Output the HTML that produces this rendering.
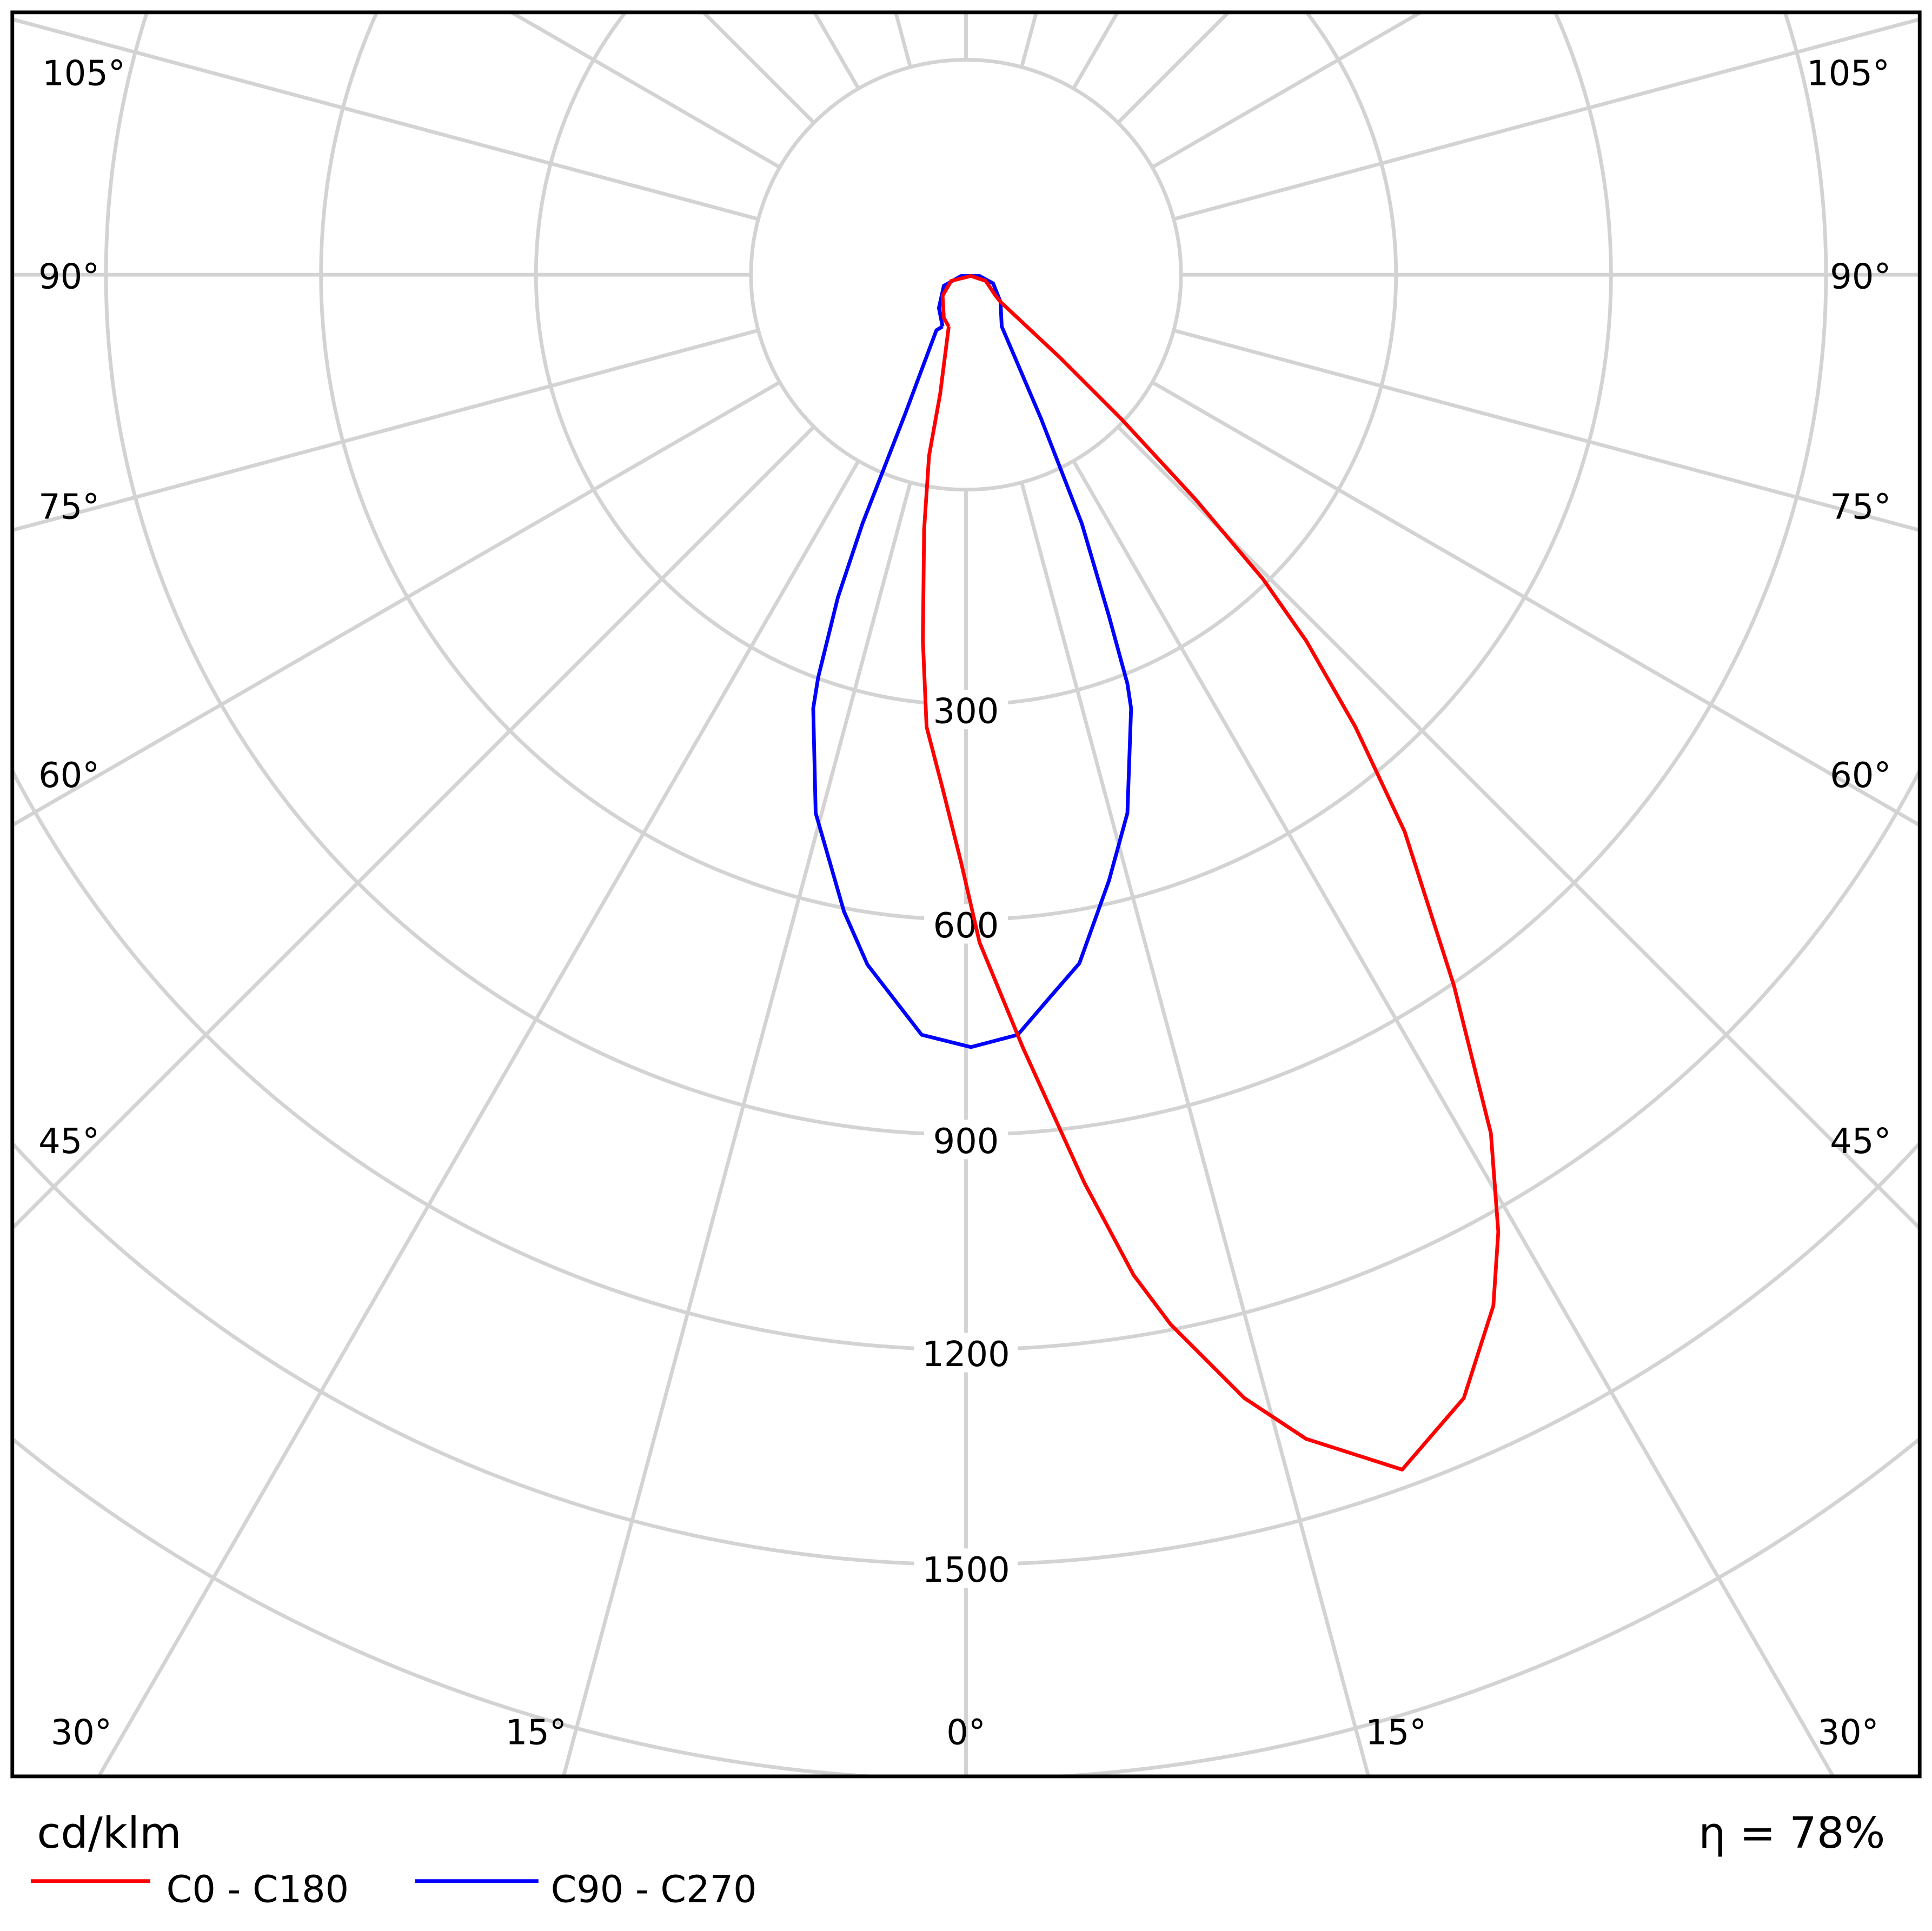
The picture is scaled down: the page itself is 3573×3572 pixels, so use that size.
<!DOCTYPE html>
<html><head><meta charset="utf-8"><style>
html,body{margin:0;padding:0;background:#fff;overflow:hidden;width:3573px;height:3572px}
svg{display:block}
text{font-family:"DejaVu Sans","Liberation Sans",sans-serif;fill:#000}
</style></head><body>
<svg width="3573" height="3572" viewBox="0 0 1568 1567.5" xmlns="http://www.w3.org/2000/svg">
<defs><clipPath id="c"><rect x="10" y="10" width="1548" height="1432"/></clipPath></defs>
<rect width="1568" height="1568" fill="#fff"/>
<g clip-path="url(#c)" stroke="#d3d3d3" stroke-width="3" fill="none">
<circle cx="784" cy="223" r="174.5"/>
<circle cx="784" cy="223" r="349"/>
<circle cx="784" cy="223" r="523.5"/>
<circle cx="784" cy="223" r="698"/>
<circle cx="784" cy="223" r="872.5"/>
<circle cx="784" cy="223" r="1047"/>
<circle cx="784" cy="223" r="1221.5"/>
<line x1="784" y1="397.5" x2="784" y2="2500"/>
<line x1="784" y1="397.5" x2="784" y2="2500" transform="rotate(15 784 223)"/>
<line x1="784" y1="397.5" x2="784" y2="2500" transform="rotate(30 784 223)"/>
<line x1="784" y1="397.5" x2="784" y2="2500" transform="rotate(45 784 223)"/>
<line x1="784" y1="397.5" x2="784" y2="2500" transform="rotate(60 784 223)"/>
<line x1="784" y1="397.5" x2="784" y2="2500" transform="rotate(75 784 223)"/>
<line x1="784" y1="397.5" x2="784" y2="2500" transform="rotate(90 784 223)"/>
<line x1="784" y1="397.5" x2="784" y2="2500" transform="rotate(105 784 223)"/>
<line x1="784" y1="397.5" x2="784" y2="2500" transform="rotate(120 784 223)"/>
<line x1="784" y1="397.5" x2="784" y2="2500" transform="rotate(135 784 223)"/>
<line x1="784" y1="397.5" x2="784" y2="2500" transform="rotate(150 784 223)"/>
<line x1="784" y1="397.5" x2="784" y2="2500" transform="rotate(165 784 223)"/>
<line x1="784" y1="397.5" x2="784" y2="2500" transform="rotate(180 784 223)"/>
<line x1="784" y1="397.5" x2="784" y2="2500" transform="rotate(195 784 223)"/>
<line x1="784" y1="397.5" x2="784" y2="2500" transform="rotate(210 784 223)"/>
<line x1="784" y1="397.5" x2="784" y2="2500" transform="rotate(225 784 223)"/>
<line x1="784" y1="397.5" x2="784" y2="2500" transform="rotate(240 784 223)"/>
<line x1="784" y1="397.5" x2="784" y2="2500" transform="rotate(255 784 223)"/>
<line x1="784" y1="397.5" x2="784" y2="2500" transform="rotate(270 784 223)"/>
<line x1="784" y1="397.5" x2="784" y2="2500" transform="rotate(285 784 223)"/>
<line x1="784" y1="397.5" x2="784" y2="2500" transform="rotate(300 784 223)"/>
<line x1="784" y1="397.5" x2="784" y2="2500" transform="rotate(315 784 223)"/>
<line x1="784" y1="397.5" x2="784" y2="2500" transform="rotate(330 784 223)"/>
<line x1="784" y1="397.5" x2="784" y2="2500" transform="rotate(345 784 223)"/>
</g>
<g font-size="28" text-anchor="middle">
<g fill="#fff" stroke="none">
<rect x="750" y="560" width="68" height="32"/><rect x="750" y="734" width="68" height="32"/><rect x="750" y="909" width="68" height="32"/><rect x="742" y="1082" width="84" height="32"/><rect x="742" y="1257" width="84" height="32"/>
</g>
<text x="784" y="587">300</text><text x="784" y="761">600</text><text x="784" y="936">900</text><text x="784" y="1109">1200</text><text x="784" y="1284">1500</text>
<text x="68" y="69">105°</text><text x="56" y="234">90°</text><text x="56" y="421">75°</text><text x="56" y="639">60°</text><text x="56" y="936">45°</text>
<text x="1500" y="69">105°</text><text x="1510" y="234">90°</text><text x="1510" y="421">75°</text><text x="1510" y="639">60°</text><text x="1510" y="936">45°</text>
<text x="66" y="1416">30°</text><text x="435" y="1416">15°</text><text x="784" y="1416">0°</text><text x="1133" y="1416">15°</text><text x="1500" y="1416">30°</text>
</g>
<polyline fill="none" stroke="#0000ff" stroke-width="3" stroke-linejoin="round" points="765,265 762,250 766,232 780,224 795,224 806,230 812,245 813,265 845,340 878,425 900,500 915,555 918,575 915,660 900,715 876,782 850,812 826,840 788,850 748,840 704,783 685,740 662,660 660,575 664,550 680,485 700,425 735,335 760,268 765,265"/>
<polyline fill="none" stroke="#ff0000" stroke-width="3" stroke-linejoin="round" points="770,265 766,258 765,240 772,228 788,224 800,228 808,240 812,245 860,290 910,340 970,405 1025,470 1060,520 1100,590 1140,675 1180,800 1210,920 1216,1000 1212,1060 1188,1135 1138,1193 1060,1168 1010,1135 950,1075 920,1035 880,960 830,850 795,765 780,700 765,640 752,590 749,520 750,430 754,370 763,320 770,265"/>
<rect x="10" y="10" width="1548" height="1432" fill="none" stroke="#000" stroke-width="3"/>
<text x="30" y="1500" font-size="35">cd/klm</text>
<text x="1530" y="1500" font-size="35" text-anchor="end">η = 78%</text>
<line x1="25" y1="1527" x2="122" y2="1527" stroke="#ff0000" stroke-width="3"/>
<text x="135" y="1544" font-size="30">C0 - C180</text>
<line x1="337" y1="1527" x2="437" y2="1527" stroke="#0000ff" stroke-width="3"/>
<text x="447" y="1544" font-size="30">C90 - C270</text>
</svg>
</body></html>
